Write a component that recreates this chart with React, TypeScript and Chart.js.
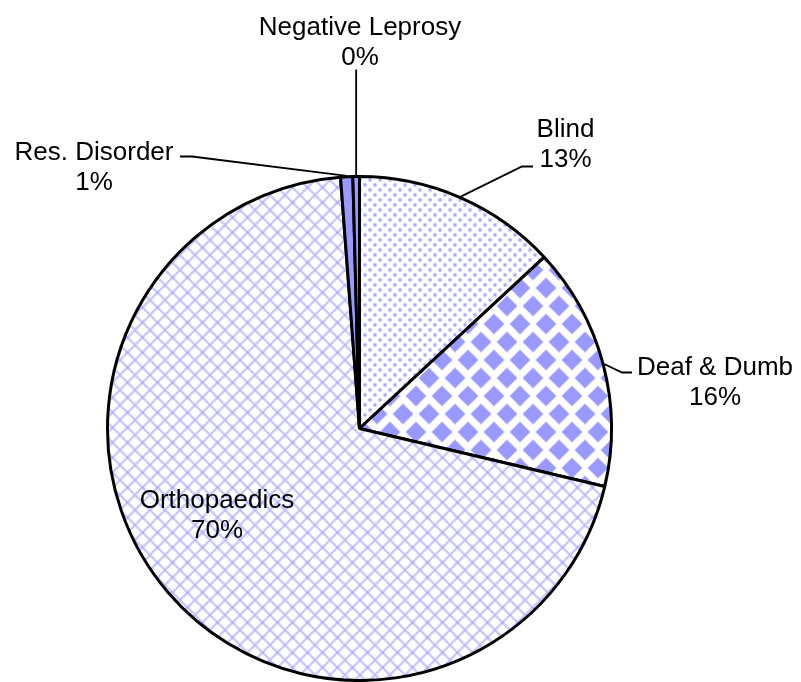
import { useEffect, useRef } from "react";
import { Chart, registerables } from "chart.js";

Chart.register(...registerables);

const categories = ["Blind", "Deaf & Dumb", "Orthopaedics", "Res. Disorder", "Negative Leprosy"];
const shares = [13.1, 15.6, 70.1, 0.78, 0.42];

// label layout, pixels relative to the pie centre (text anchor + leader elbow/end)
type LabelLayout = {
  textX: number;
  baseY: number;
  leader: Array<[number | null, number]> | null;
};
const labelLayout: LabelLayout[] = [
  { textX: 206, baseY: -292, leader: [[162.5, -262], [173.5, -262]] },
  { textX: 355.5, baseY: -54, leader: [[262.5, -56], [272.5, -56]] },
  { textX: -142.5, baseY: 79, leader: null },
  { textX: -265.5, baseY: -269, leader: [[-167.5, -272], [-179.5, -272]] },
  { textX: 0.5, baseY: -394, leader: [[null, -359]] },
];

const BLUE = "#9999ff";

function makeTile(w: number, h: number, draw: (c: CanvasRenderingContext2D) => void) {
  const cv = document.createElement("canvas");
  cv.width = w;
  cv.height = h;
  const c = cv.getContext("2d")!;
  c.fillStyle = "#ffffff";
  c.fillRect(0, 0, w, h);
  draw(c);
  return c.createPattern(cv, "repeat")!;
}

function dotsPattern() {
  const T = 10;
  return makeTile(T, T, (c) => {
    const pts = [
      [0, 0], [T, 0], [0, T], [T, T], [T / 2, T / 2],
    ];
    for (const [x, y] of pts) {
      c.fillStyle = "rgba(153,153,255,0.3)";
      c.beginPath();
      c.arc(x, y, 2.4, 0, Math.PI * 2);
      c.fill();
      c.fillStyle = "rgba(153,153,255,0.8)";
      c.beginPath();
      c.arc(x, y, 1.4, 0, Math.PI * 2);
      c.fill();
    }
  });
}

function diamondPattern() {
  const W = 26;
  const H = 36;
  return makeTile(W, H, (c) => {
    const pts = [
      [0, 0], [W, 0], [0, H], [W, H], [W / 2, H / 2],
    ];
    const layers: Array<[number, string]> = [
      [11, "rgba(153,153,255,0.35)"],
      [10, BLUE],
    ];
    for (const [r, col] of layers) {
      c.fillStyle = col;
      for (const [x, y] of pts) {
        c.beginPath();
        c.moveTo(x, y - r);
        c.lineTo(x + r, y);
        c.lineTo(x, y + r);
        c.lineTo(x - r, y);
        c.closePath();
        c.fill();
      }
    }
  });
}

function crossPattern() {
  const T = 15;
  return makeTile(T, T, (c) => {
    c.strokeStyle = "rgba(150,150,255,0.5)";
    c.lineWidth = 2.4;
    for (let k = -1; k <= 1; k++) {
      c.beginPath();
      c.moveTo(k * T, 0);
      c.lineTo(k * T + T, T);
      c.stroke();
      c.beginPath();
      c.moveTo(k * T + T, 0);
      c.lineTo(k * T, T);
      c.stroke();
    }
  });
}

const labelPlugin = {
  id: "excelLabels",
  afterDatasetsDraw(chart: any) {
    const ctx: CanvasRenderingContext2D = chart.ctx;
    const meta = chart.getDatasetMeta(0);
    const data: number[] = chart.data.datasets[0].data;
    const total = data.reduce((a, b) => a + b, 0);
    ctx.save();
    ctx.font = "26px 'Liberation Sans', Arial, sans-serif";
    ctx.fillStyle = "#000";
    ctx.textAlign = "center";
    ctx.textBaseline = "alphabetic";
    meta.data.forEach((arc: any, i: number) => {
      const p = arc.getProps(["x", "y", "startAngle", "endAngle", "outerRadius"], true);
      const cx = p.x;
      const cy = p.y;
      const mid = (p.startAngle + p.endAngle) / 2;
      const ax = cx + Math.cos(mid) * (p.outerRadius + 1);
      const ay = cy + Math.sin(mid) * (p.outerRadius + 1);
      const lay = labelLayout[i];
      if (lay.leader) {
        ctx.strokeStyle = "#000";
        ctx.lineWidth = 1.8;
        ctx.beginPath();
        ctx.moveTo(ax, ay);
        for (const [lx, ly] of lay.leader) {
          ctx.lineTo(lx === null ? ax : cx + lx, cy + ly);
        }
        ctx.stroke();
      }
      const pct = Math.round((data[i] / total) * 100) + "%";
      const tx = cx + lay.textX;
      ctx.fillText(chart.data.labels[i], tx, cy + lay.baseY);
      ctx.fillText(pct, tx, cy + lay.baseY + 30);
    });
    ctx.restore();
  },
};

export default function App() {
  const ref = useRef<HTMLCanvasElement | null>(null);
  useEffect(() => {
    if (!ref.current) return;
    const chart = new Chart(ref.current, {
      type: "pie",
      data: {
        labels: categories,
        datasets: [
          {
            data: shares,
            backgroundColor: [dotsPattern(), diamondPattern(), crossPattern(), BLUE, BLUE] as any,
            borderColor: "#000000",
            borderWidth: 3,
          },
        ],
      },
      options: {
        responsive: false,
        animation: false,
        devicePixelRatio: 1,
        layout: { padding: { left: 105, right: 187, top: 175, bottom: 0 } },
        plugins: {
          legend: { display: false },
          tooltip: { enabled: false },
        },
      },
      plugins: [labelPlugin],
    });
    return () => chart.destroy();
  }, []);
  return (
    <div style={{ position: "absolute", left: 0, top: 0, width: 801, height: 682, background: "#fff" }}>
      <canvas ref={ref} width={801} height={682} style={{ display: "block" }} />
    </div>
  );
}
